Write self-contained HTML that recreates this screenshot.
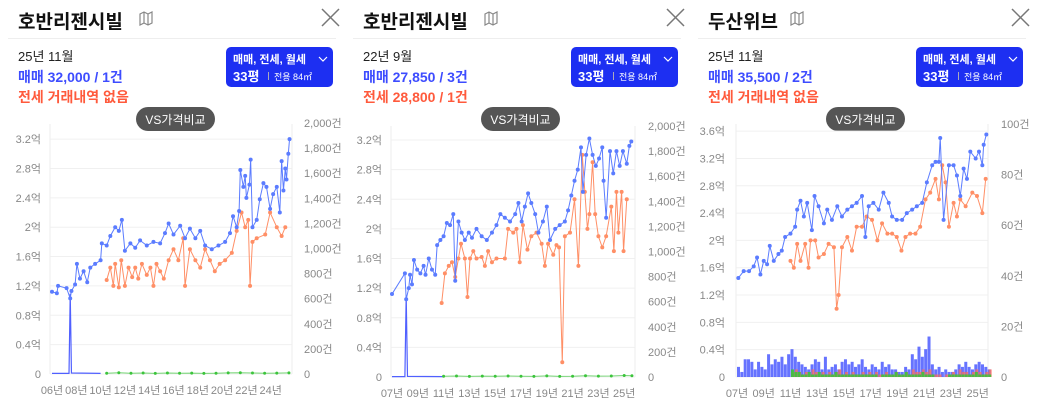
<!DOCTYPE html>
<html><head><meta charset="utf-8"><style>
html,body{margin:0;padding:0;background:#fff;}
svg{display:block;font-family:"Liberation Sans","Noto Sans CJK KR",sans-serif;}
</style></head><body>
<svg id="root" width="1039" height="409" viewBox="0 0 1039 409" xmlns="http://www.w3.org/2000/svg"></svg>
<script>
// ===== Panel 1 data =====
const p1SaleYears=[6.0,6.4,6.5,7.2,7.5,7.6,7.9,8.05,8.3,8.6,8.9,9.15,9.55,10.0,10.1,10.5,10.8,11.2,11.5,11.75,12.0,12.45,12.85,13.25,13.8,14.35,14.9,15.3,15.6,16.0,16.55,16.95,17.35,17.8,18.2,18.6,19.15,19.7,20.25,20.65,20.9,21.2,21.4,21.5,21.75,21.9,22.0,22.25,22.35,22.5,22.85,23.1,23.4,23.65,23.95,24.2,24.5,24.75,24.9,25.05,25.2,25.3,25.45,25.55];
const p1SaleVals=[1.12,1.1,1.2,1.17,1.03,1.13,1.22,1.5,1.3,1.4,1.25,1.45,1.5,1.55,1.78,1.75,1.88,2.0,1.95,2.1,1.68,1.78,1.72,1.82,1.75,1.8,1.78,1.92,2.05,1.9,2.02,1.85,1.98,1.85,1.95,1.75,1.7,1.75,1.8,1.92,2.15,2.0,2.22,2.78,2.55,2.7,2.4,2.58,2.92,2.0,2.1,2.38,2.6,2.55,2.25,2.45,2.55,2.2,2.9,2.5,2.8,2.65,3.0,3.2];
const p1RentYears=[10.5,10.8,11.05,11.2,11.5,11.7,12.0,12.3,12.6,12.85,13.1,13.4,13.8,14.1,14.35,14.6,14.9,15.2,15.6,16.0,16.4,16.8,16.95,17.35,17.8,18.2,18.6,19.0,19.4,19.8,20.25,20.8,21.2,21.6,21.9,22.15,22.3,22.5,22.85,23.55,23.95,24.5,24.9,25.2];
const p1RentVals=[1.28,1.45,1.2,1.5,1.18,1.55,1.2,1.45,1.32,1.45,1.3,1.5,1.35,1.45,1.2,1.5,1.4,1.3,1.55,1.7,1.55,1.85,1.2,1.7,1.55,1.45,1.7,1.55,1.4,1.5,1.55,1.65,1.95,2.2,2.0,2.1,1.2,1.8,1.85,1.9,2.2,2.0,1.88,2.0];
const p1VolYears=[6.0,7.4,7.5,7.6,10.0];
const p1VolVals=[5,5,640,8,5];
const p1GreenYears=[10.5,11.5,12.5,13.5,14.5,15.5,16.5,17.5,18.5,19.5,20.5,21.5,22.5,23.5,24.5,25.5];
const p1GreenVals=[6,10,6,8,5,8,6,7,5,6,9,10,8,6,7,9];
const p1LeftTicks=["0","0.4억","0.8억","1.2억","1.6억","2억","2.4억","2.8억","3.2억"];
const p1RightTicks=["0","200건","400건","600건","800건","1,000건","1,200건","1,400건","1,600건","1,800건","2,000건"];
const p1XTicks=["06년","08년","10년","12년","14년","16년","18년","20년","22년","24년"];

// ===== Panel 2 data =====
const p2SaleYears=[7.0,8.0,8.1,8.3,8.4,8.55,8.7,8.95,9.2,9.45,9.6,9.85,10.1,10.35,10.5,10.75,11.0,11.25,11.5,11.75,11.9,12.15,12.4,12.65,12.95,13.2,13.55,13.95,14.35,14.75,15.1,15.4,15.75,16.15,16.55,16.8,17.05,17.3,17.55,17.8,18.1,18.35,18.7,19.0,19.25,19.65,20.0,20.4,20.65,20.9,21.15,21.4,21.65,21.8,22.05,22.3,22.55,22.8,23.05,23.3,23.4,23.6,23.9,24.15,24.4,24.65,24.9,25.2,25.4,25.55];
const p2SaleVals=[1.12,1.4,1.05,1.2,1.38,1.25,1.58,1.45,1.4,1.5,1.38,1.6,1.45,1.38,1.78,1.85,1.9,2.08,2.05,2.2,1.3,2.1,1.95,1.85,1.95,1.88,2.0,1.9,1.85,1.95,2.05,2.2,2.15,2.1,2.2,2.35,2.1,2.3,2.48,2.35,2.2,1.95,2.1,2.3,1.85,2.0,2.05,2.1,2.25,2.45,2.65,2.8,3.1,2.5,3.0,3.22,3.0,2.85,2.95,3.1,2.65,2.15,3.05,2.75,3.05,2.85,3.05,2.88,3.12,3.18];
const p2RentYears=[10.85,11.1,11.4,11.65,11.9,12.15,12.35,12.65,12.85,13.05,13.3,13.55,13.95,14.2,14.45,14.75,15.1,15.75,16.0,16.4,16.65,16.9,17.15,17.5,17.8,18.2,18.6,18.85,19.1,19.5,19.75,19.95,20.2,20.4,20.8,21.15,21.45,21.75,21.95,22.15,22.3,22.55,22.75,23.0,23.3,23.6,24.0,24.2,24.4,24.55,24.8,24.95,25.2];
const p2RentVals=[1.0,1.4,1.5,1.55,1.35,1.6,1.8,1.6,1.08,1.6,1.7,1.6,1.62,1.5,1.7,1.55,1.6,1.6,2.0,1.95,2.0,1.55,2.05,1.72,1.9,1.95,1.8,1.5,1.8,1.65,1.78,1.75,0.2,1.9,1.95,2.4,1.5,3.0,2.5,2.0,2.2,2.9,2.2,1.9,1.75,1.9,2.3,1.7,2.5,1.95,2.5,1.7,2.4];
const p2VolYears=[7.0,8.0,8.1,8.2,11.0];
const p2VolVals=[3,3,650,5,3];
const p2GreenYears=[11.0,12.0,13.0,14.0,15.0,16.0,17.0,18.0,19.0,20.0,21.0,22.0,23.0,24.0,25.0,25.6];
const p2GreenVals=[6,8,5,7,6,8,6,5,9,5,6,10,7,8,12,10];
const p2LeftTicks=p1LeftTicks;
const p2RightTicks=p1RightTicks;
const p2XTicks=["07년","09년","11년","13년","15년","17년","19년","21년","23년","25년"];

// ===== Panel 3 data =====
const p3SaleYears=[7.1,7.5,7.9,8.25,8.5,8.75,9.0,9.25,9.45,9.75,10.1,10.35,10.6,11.0,11.35,11.5,11.75,12.0,12.25,12.6,12.8,13.1,13.5,13.75,14.1,14.5,14.85,15.25,15.6,15.95,16.35,16.6,16.85,17.2,17.6,17.95,18.35,18.6,18.95,19.35,19.7,20.1,20.45,20.85,21.2,21.6,21.85,22.1,22.2,22.45,22.85,23.2,23.45,23.7,23.95,24.2,24.45,24.85,25.1,25.35,25.45,25.65];
const p3SaleVals=[1.45,1.55,1.55,1.62,1.75,1.5,1.7,1.65,1.92,1.7,1.8,1.85,2.05,2.1,2.2,2.45,2.58,2.35,2.55,2.15,2.65,2.5,2.25,2.45,2.3,2.5,2.35,2.45,2.5,2.55,2.65,2.05,2.5,2.55,2.45,2.7,2.55,2.35,2.3,2.3,2.4,2.45,2.5,2.55,2.85,3.1,3.15,3.15,3.5,2.3,3.1,3.1,2.95,2.65,3.05,2.9,3.3,3.2,3.3,3.1,3.4,3.55];
const p3RentYears=[11.0,11.25,11.5,11.75,12.1,12.35,12.5,12.85,13.1,13.5,13.85,14.25,14.45,14.6,14.85,15.25,15.6,15.95,16.35,16.7,17.1,17.5,17.85,18.25,18.6,18.95,19.3,19.6,19.95,20.35,20.7,21.1,21.45,21.85,22.1,22.35,22.6,22.85,23.2,23.45,23.7,24.1,24.6,24.95,25.35,25.6];
const p3RentVals=[1.7,1.6,1.95,1.7,1.95,1.6,2.0,2.0,1.75,1.8,1.95,1.9,1.0,1.2,1.9,2.05,1.85,2.2,2.2,2.35,2.3,2.0,2.25,2.1,2.1,2.05,1.85,2.05,2.1,2.1,2.2,2.6,2.7,2.9,2.6,3.1,2.85,2.2,2.55,2.35,2.6,2.5,2.7,2.65,2.4,2.9];
const p3BarStart=7.0;
const p3BlueBars=[4,2,7,7,6,3,6,4,3,9,5,7,6,8,5,9,11,8,6,5,4,3,5,7,6,3,8,3,4,5,3,6,7,5,6,4,5,7,4,3,5,4,3,6,4,5,3,3,2,2,4,3,9,7,12,8,11,16,5,3,4,2,3,2,2,3,5,4,6,4,3,5,6,5,4,3];
const p3RedBars=[0,0,0,0,0,0,0,0,0,0,0,0,0,0,0,0,2,3,2,1,2,1,3,2,1,2,1,2,1,2,3,1,2,1,2,1,1,2,1,2,1,2,1,1,2,1,1,2,1,1,2,1,3,2,2,3,2,3,1,1,1,0,1,1,2,1,3,2,2,1,2,3,2,1,2,3];
const p3GreenBars=[0,0,0,0,0,0,0,0,0,0,0,0,0,0,0,0,3,2,2,1,1,2,1,1,2,1,1,1,1,2,1,1,1,1,1,1,1,1,1,1,1,1,0,1,1,1,1,2,1,1,2,1,1,1,1,2,1,1,1,0,0,0,0,1,1,1,1,1,1,1,1,2,1,1,1,1];
const p3LeftTicks=["0","0.4억","0.8억","1.2억","1.6억","2억","2.4억","2.8억","3.2억","3.6억"];
const p3RightTicks=["0","20건","40건","60건","80건","100건"];
const p3XTicks=p2XTicks;

const NS="http://www.w3.org/2000/svg";
const root=document.getElementById('root');
function el(tag,attrs,parent,txt){const e=document.createElementNS(NS,tag);for(const k in attrs)e.setAttribute(k,attrs[k]);if(txt!==undefined)e.textContent=txt;(parent||root).appendChild(e);return e;}

const BLUE="#5b7cff",ORANGE="#ff8f66",GREEN="#3cc43c";

function header(ox,title,date,sale,rent){
  const g=el('g',{});
  
  
  const t=el('text',{x:ox+18,y:28,'font-size':19,'font-weight':'bold',fill:'#111'},g,title);
  
  
  const tw=title.length*19.5;
  const mi=el('g',{stroke:'#888','stroke-width':1.2,fill:'none'},g);
  
  
  const mx=ox+18+tw+5;
  el('path',{d:`M${mx} 14 l4 -2 l4 2 l4 -2 v11 l-4 2 l-4 -2 l-4 2 z M${mx+4} 12 v11 M${mx+8} 14 v11`},mi);
  const cx=el('path',{d:`M${ox+322} 9 L${ox+339} 26 M${ox+339} 9 L${ox+322} 26`,stroke:'#777','stroke-width':1.5},g);
  
  
  const sep=el('line',{x1:ox+8,x2:ox+336,y1:38.5,y2:38.5,stroke:'#eee'},g);
  
  
  const d=el('text',{x:ox+18,y:61,'font-size':13,fill:'#222'},g,date);
  
  
  const s=el('text',{x:ox+18,y:82,'font-size':14,'font-weight':600,fill:'#3d4cff'},g,sale);
  
  
  const r=el('text',{x:ox+18,y:102,'font-size':14,'font-weight':600,fill:'#ff5a3c'},g,rent);
  
  
  const b=el('g',{},g);
  
  
  el('rect',{x:ox+226,y:47,width:107,height:40,rx:5,fill:'#1d2ff2'},b);
  el('text',{x:ox+233,y:63,'font-size':11,'font-weight':'bold',fill:'#fff'},b,'매매, 전세, 월세');
  el('path',{d:`M${ox+319} 57 l4 4 l4 -4`,stroke:'#fff',fill:'none','stroke-width':1.2},b);
  el('text',{x:ox+233,y:81,'font-size':13,'font-weight':'bold',fill:'#fff'},b,'33평');
  el('line',{x1:ox+268.5,x2:ox+268.5,y1:72,y2:80,stroke:'#aab'},b);
  el('text',{x:ox+274,y:80,'font-size':9,fill:'#fff'},b,'전용 84㎡');
  const p=el('g',{},g);
  
  
  el('rect',{x:ox+136,y:107,width:79,height:24,rx:12,fill:'#555'},p);
  el('text',{x:ox+175.5,y:124,'font-size':12,fill:'#fff','text-anchor':'middle'},p,'VS가격비교');
}

function chart(c){
  const g=el('g',{});
  
  
  const xs=y=>c.x0+(y-c.year0)*c.ppy;
  const yl=v=>c.y0-v*c.ppl;
  const yr=v=>c.y0-v*c.ppr;
  c.leftTicks.forEach((t,i)=>{
    const y=yl(i*0.4);
    const gl=el('line',{x1:c.px0,x2:c.px1,y1:y,y2:y,stroke:'#f0f0f0'},g);
    
    
    const lt=el('text',{x:c.lx,y:y+4,'font-size':11,fill:'#888','text-anchor':'end'},g,t);
    
    
  });
  c.rightTicks.forEach((t,i)=>{
    const y=yr(i*c.rstep);
    const rt=el('text',{x:c.rx,y:y+4,'font-size':11,fill:'#888'},g,t);
    
    
  });
  el('line',{x1:c.px0,x2:c.px0,y1:c.top,y2:c.y0,stroke:'#eee'},g);
  el('line',{x1:c.px1,x2:c.px1,y1:c.top,y2:c.y0,stroke:'#eee'},g);
  c.xTicks.forEach((t,i)=>{
    const xt=el('text',{x:xs(c.year0+i*2),y:c.xly,'font-size':11,fill:'#888','text-anchor':'middle'},g,t);
    
    
  });
  if(c.bars){
    c.bars.forEach(([arr,col,op,dx])=>{
      arr.forEach((v,i)=>{
        if(!v)return;
        const x=xs(c.barStart+i*0.25)+dx;
        const b=el('rect',{x:x,y:yr(v),width:3,height:v*c.ppr,fill:col,opacity:op},g);
        
        
      });
    });
  }
  if(c.vol){
    const pts=c.vol[0].map((t,i)=>xs(t)+','+yr(c.vol[1][i])).join(' ');
    const vl=el('polyline',{points:pts,fill:'none',stroke:'#5060ff','stroke-width':1.2},g);
    
    
    const pts2=c.green[0].map((t,i)=>xs(t)+','+yr(c.green[1][i])).join(' ');
    const gl=el('polyline',{points:pts2,fill:'none',stroke:GREEN,'stroke-width':1,opacity:.7},g);
    
    
    c.green[0].forEach((t,i)=>{
      const d=el('circle',{cx:xs(t),cy:yr(c.green[1][i]),r:1.5,fill:GREEN},g);
      
      
    });
  }
  function series(ys,vs,col,name){
    const pts=ys.map((t,i)=>xs(t)+','+yl(vs[i])).join(' ');
    const l=el('polyline',{points:pts,fill:'none',stroke:col,'stroke-width':1},g);
    
    
    ys.forEach((t,i)=>{
      const d=el('circle',{cx:xs(t),cy:yl(vs[i]),r:2,fill:col},g);
      
      
    });
  }
  series(c.rent[0],c.rent[1],ORANGE,'jeonse-price');
  series(c.sale[0],c.sale[1],BLUE,'sale-price');
}

header(0,'호반리젠시빌','25년 11월','매매 32,000 / 1건','전세 거래내역 없음');
header(345,'호반리젠시빌','22년 9월','매매 27,850 / 3건','전세 28,800 / 1건');
header(690,'두산위브','25년 11월','매매 35,500 / 2건','전세 거래내역 없음');

chart({x0:52,year0:6,ppy:12.15,y0:374,ppl:73.4,ppr:0.1255,rstep:200,top:124,px0:50,px1:292,lx:41,rx:304,xly:394,
  leftTicks:p1LeftTicks,rightTicks:p1RightTicks,xTicks:p1XTicks,
  sale:[p1SaleYears,p1SaleVals],rent:[p1RentYears,p1RentVals],vol:[p1VolYears,p1VolVals],green:[p1GreenYears,p1GreenVals]});
chart({x0:392,year0:7,ppy:12.9,y0:377,ppl:74.06,ppr:0.1255,rstep:200,top:126,px0:391,px1:635,lx:382,rx:648,xly:397,
  leftTicks:p2LeftTicks,rightTicks:p2RightTicks,xTicks:p2XTicks,
  sale:[p2SaleYears,p2SaleVals],rent:[p2RentYears,p2RentVals],vol:[p2VolYears,p2VolVals],green:[p2GreenYears,p2GreenVals]});
chart({x0:737,year0:7,ppy:13.37,y0:377,ppl:68.3,ppr:2.53,rstep:20,top:124,px0:736,px1:988,lx:725,rx:1001,xly:397,
  leftTicks:p3LeftTicks,rightTicks:p3RightTicks,xTicks:p3XTicks,
  sale:[p3SaleYears,p3SaleVals],rent:[p3RentYears,p3RentVals],
  barStart:p3BarStart,bars:[[p3BlueBars,'#3344ff',0.75,0],[p3RedBars,'#ff6a5a',0.75,1],[p3GreenBars,GREEN,0.9,0.5]]});
</script>
</body></html>
